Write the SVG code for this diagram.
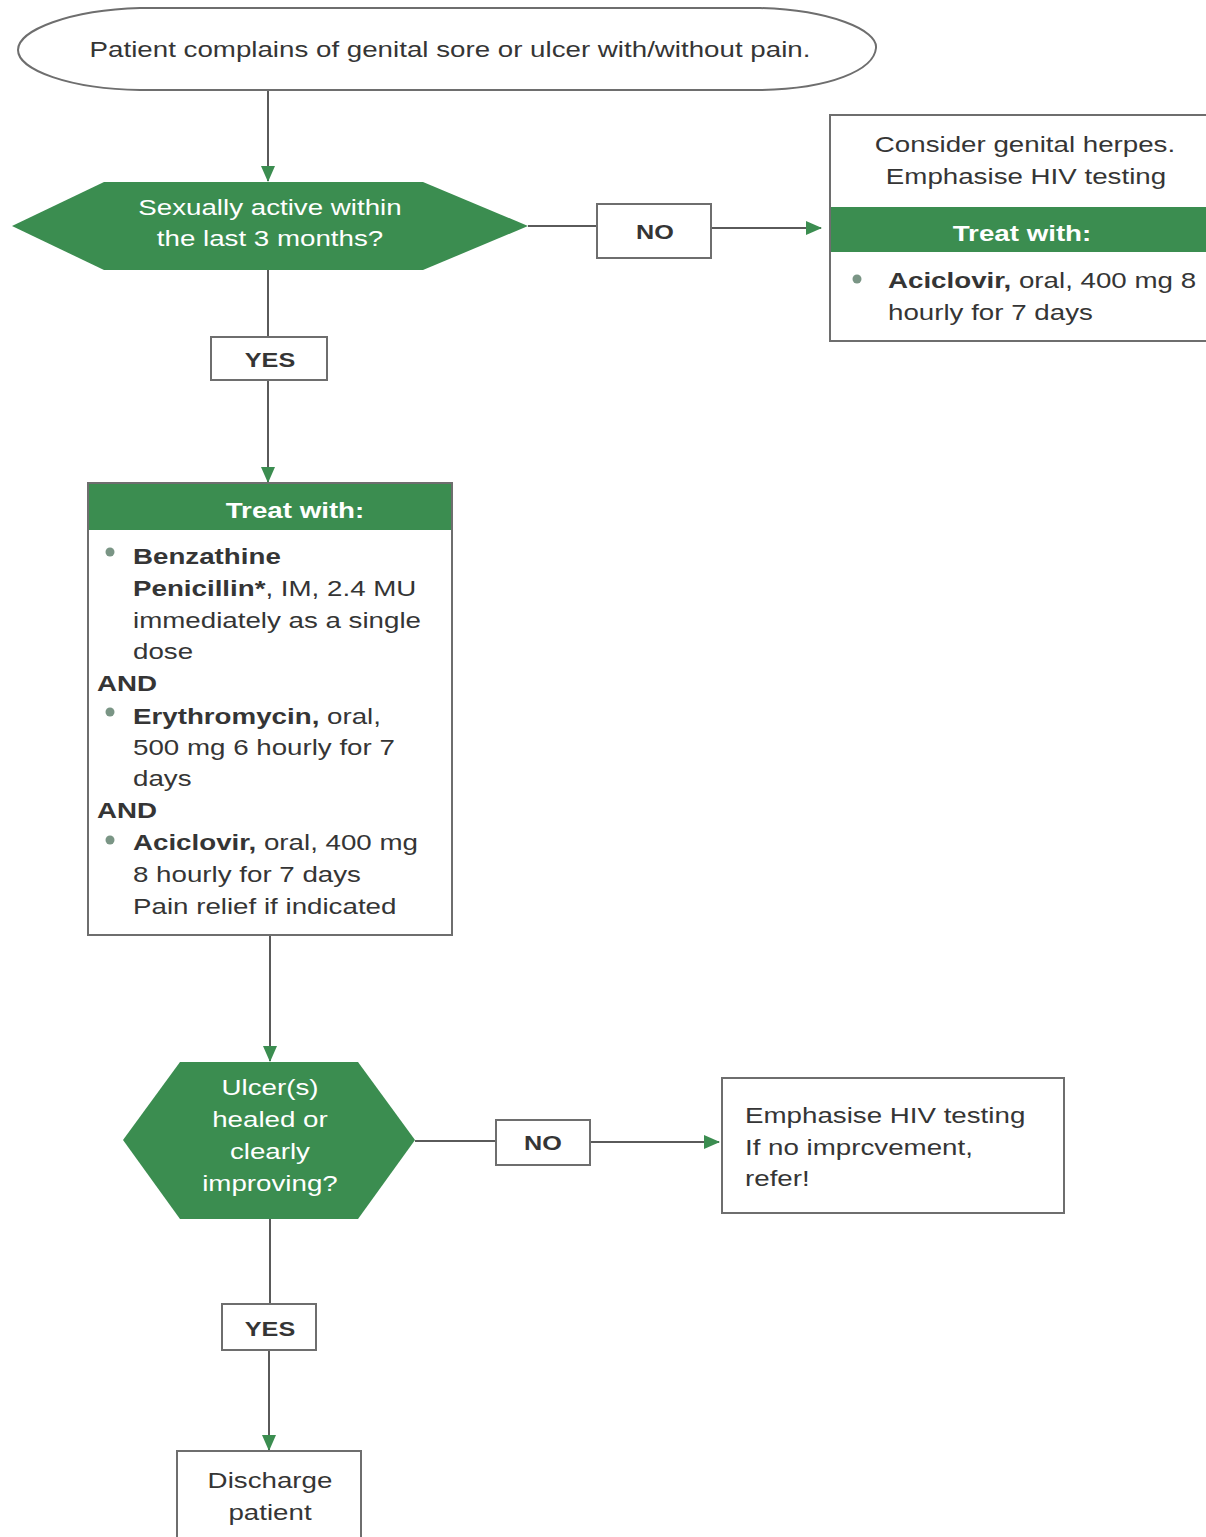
<svg xmlns="http://www.w3.org/2000/svg" width="1206" height="1537" viewBox="0 0 1206 1537">
<style>
text{font-family:"Liberation Sans",Arial,sans-serif;fill:#353535;font-size:22px;transform-box:fill-box;transform-origin:left center;transform:scaleX(1.26)}
.w{fill:#ffffff}
.c{text-anchor:middle;transform-origin:center center}
.b{font-weight:bold}
.box{fill:#ffffff;stroke:#6e6e6e;stroke-width:2}
.g{fill:#3b8d50}
.ln{stroke:#5a5a5a;stroke-width:2;fill:none}
.dot{fill:#7a9585}
</style>
<defs>
<marker id="ah" markerWidth="16" markerHeight="14" refX="15" refY="7" orient="auto" markerUnits="userSpaceOnUse">
<path d="M0,0 L16,7 L0,14 Z" fill="#3b8d50"/>
</marker>
</defs>
<rect width="1206" height="1537" fill="#ffffff"/>
<g id="connectors">
<line class="ln" x1="268" y1="90" x2="268" y2="181" marker-end="url(#ah)"/>
<line class="ln" x1="528" y1="226" x2="597" y2="226"/>
<line class="ln" x1="711" y1="228" x2="821" y2="228" marker-end="url(#ah)"/>
<line class="ln" x1="268" y1="270" x2="268" y2="337"/>
<line class="ln" x1="268" y1="380" x2="268" y2="482" marker-end="url(#ah)"/>
<line class="ln" x1="270" y1="935" x2="270" y2="1061" marker-end="url(#ah)"/>
<line class="ln" x1="415" y1="1141" x2="496" y2="1141"/>
<line class="ln" x1="590" y1="1142" x2="719" y2="1142" marker-end="url(#ah)"/>
<line class="ln" x1="270" y1="1219" x2="270" y2="1304"/>
<line class="ln" x1="269" y1="1350" x2="269" y2="1450" marker-end="url(#ah)"/>
</g>
<g id="start">
<path class="box" d="M140,8 L760,8 C830,10 878,30 876,48 C874,70 830,89 760,90 L140,90 C70,89 18,70 18,50 C18,30 70,10 140,8 Z"/>
<text class="c" x="450" y="57">Patient complains of genital sore or ulcer with/without pain.</text>
</g>
<g id="decision1">
<polygon class="g" points="12,226 104,182 423,182 528,226 423,270 104,270"/>
<text class="c w" x="270" y="215">Sexually active within</text>
<text class="c w" x="270" y="246">the last 3 months?</text>
</g>
<g id="no1">
<rect class="box" x="597" y="204" width="114" height="54"/>
<text class="c b" x="655" y="239" style="font-size:20px">NO</text>
</g>
<g id="herpes">
<rect class="box" x="830" y="115" width="380" height="226"/>
<text class="c" x="1025" y="152">Consider genital herpes.</text>
<text class="c" x="1026" y="184">Emphasise HIV testing</text>
<rect class="g" x="831" y="207" width="378" height="45"/>
<text class="c w b" x="1022" y="241">Treat with:</text>
<circle class="dot" cx="857" cy="279" r="4.5"/>
<text x="888" y="288"><tspan class="b">Aciclovir,</tspan> oral, 400 mg 8</text>
<text x="888" y="320">hourly for 7 days</text>
</g>
<g id="yes1">
<rect class="box" x="211" y="337" width="116" height="43"/>
<text class="c b" x="270" y="367" style="font-size:20px">YES</text>
</g>
<g id="treat">
<rect class="box" x="88" y="483" width="364" height="452"/>
<rect class="g" x="89" y="484" width="362" height="46"/>
<text class="c w b" x="295" y="518">Treat with:</text>
<circle class="dot" cx="110" cy="552" r="4.5"/>
<text class="b" x="133" y="564">Benzathine</text>
<text x="133" y="596"><tspan class="b">Penicillin*</tspan>, IM, 2.4 MU</text>
<text x="133" y="628">immediately as a single</text>
<text x="133" y="659">dose</text>
<text class="b" x="97" y="691">AND</text>
<circle class="dot" cx="110" cy="712" r="4.5"/>
<text x="133" y="724"><tspan class="b">Erythromycin,</tspan> oral,</text>
<text x="133" y="755">500 mg 6 hourly for 7</text>
<text x="133" y="786">days</text>
<text class="b" x="97" y="818">AND</text>
<circle class="dot" cx="110" cy="840" r="4.5"/>
<text x="133" y="850"><tspan class="b">Aciclovir,</tspan> oral, 400 mg</text>
<text x="133" y="882">8 hourly for 7 days</text>
<text x="133" y="914">Pain relief if indicated</text>
</g>
<g id="decision2">
<polygon class="g" points="123,1140 180,1062 358,1062 415,1140 358,1219 180,1219"/>
<text class="c w" x="270" y="1095">Ulcer(s)</text>
<text class="c w" x="270" y="1127">healed or</text>
<text class="c w" x="270" y="1159">clearly</text>
<text class="c w" x="270" y="1191">improving?</text>
</g>
<g id="no2">
<rect class="box" x="496" y="1120" width="94" height="45"/>
<text class="c b" x="543" y="1150" style="font-size:20px">NO</text>
</g>
<g id="refer">
<rect class="box" x="722" y="1078" width="342" height="135"/>
<text x="745" y="1123">Emphasise HIV testing</text>
<text x="745" y="1155">If no imprcvement,</text>
<text x="745" y="1186">refer!</text>
</g>
<g id="yes2">
<rect class="box" x="222" y="1304" width="94" height="46"/>
<text class="c b" x="270" y="1336" style="font-size:20px">YES</text>
</g>
<g id="discharge">
<rect class="box" x="177" y="1451" width="184" height="96"/>
<text class="c" x="270" y="1488">Discharge</text>
<text class="c" x="270" y="1520">patient</text>
</g>
</svg>
